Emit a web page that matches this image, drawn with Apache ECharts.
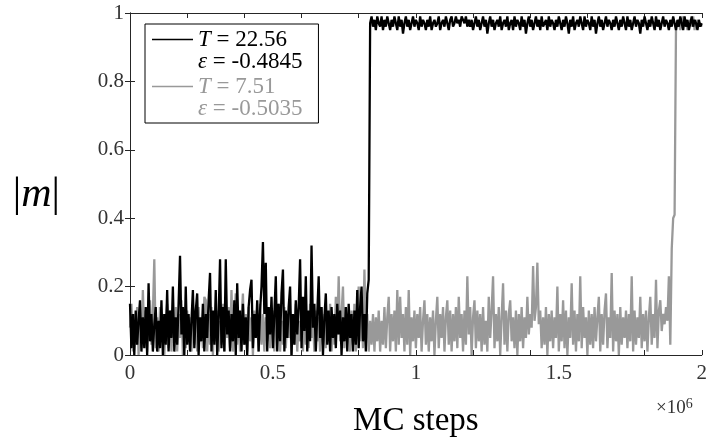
<!DOCTYPE html>
<html>
<head>
<meta charset="utf-8">
<script src="https://cdn.jsdelivr.net/npm/echarts@6/dist/echarts.min.js"></script>
<style>html,body{margin:0;padding:0;background:#fff}#chart{width:710px;height:443px}</style>
</head>
<body>
<div id="chart"></div>
<script>
// Sampling interval of the stored traces (MC steps between samples)
const STEP = 5000;

// |m| trace, T = 22.56 : disordered part (0 ... 835000)
const blackBefore = [
.15,.02,.12,.0,.13,.03,.1,.16,.01,.11,
.02,.14,.0,.21,.04,.12,.01,.09,.14,.01,
.1,.02,.16,.0,.12,.03,.19,.01,.13,.05,
.2,.01,.11,.03,.15,.29,.06,.14,.0,.2,
.03,.12,.01,.1,.19,.02,.13,.18,.0,.11,
.04,.15,.01,.12,.05,.16,.24,.01,.13,.03,
.19,.0,.11,.28,.02,.14,.01,.28,.06,.13,
.01,.12,.04,.16,.0,.21,.05,.13,.01,.15,
.03,.11,.0,.14,.19,.22,.02,.12,.05,.16,
.01,.13,.2,.33,.12,.27,.01,.14,.06,.17,
.02,.12,.23,.01,.15,.04,.18,.25,.01,.13,
.05,.14,.2,.0,.12,.03,.16,.06,.14,.28,
.02,.17,.07,.23,.01,.13,.04,.32,.08,.15,
.01,.12,.23,.05,.14,.0,.11,.18,.03,.13,
.01,.14,.05,.12,.02,.15,.06,.13,.0,.11,
.04,.14,.01,.15,.05,.12,.01,.13,.03,.19,
.02,.14,.2,.04,.12,.01,.18,.22
];
// |m| trace, T = 22.56 : ordered part (840000 ... 2000000)
const blackAfter = [
.97,.99,.96,.98,.95,.99,.97,.96,.99,.95,
.98,.96,.99,.97,.95,.98,.96,.99,.97,.95,
.99,.96,.98,.94,.97,.99,.96,.98,.95,.97,
.99,.96,.98,.97,.95,.99,.96,.98,.97,.95,
.98,.96,.99,.95,.97,.98,.96,.97,.99,.95,
.97,.98,.96,.99,.97,.95,.98,.99,.96,.97,
.99,.97,.98,.96,.99,.98,.97,.99,.96,.98,
.96,.98,.95,.97,.99,.96,.98,.95,.97,.99,
.96,.98,.94,.97,.99,.96,.98,.95,.97,.98,
.96,.99,.95,.97,.98,.96,.99,.95,.97,.98,
.95,.99,.96,.98,.97,.95,.99,.96,.98,.94,
.97,.99,.96,.98,.95,.97,.99,.96,.98,.95,
.99,.96,.97,.98,.95,.99,.96,.98,.97,.95,
.98,.96,.99,.97,.95,.98,.96,.99,.97,.94,
.98,.96,.99,.95,.97,.98,.96,.99,.97,.95,
.99,.96,.98,.97,.95,.99,.96,.98,.94,.97,
.99,.96,.98,.95,.97,.99,.96,.98,.97,.95,
.98,.96,.99,.97,.95,.98,.96,.99,.97,.95,
.99,.96,.98,.95,.97,.99,.96,.98,.97,.94,
.98,.96,.99,.97,.95,.98,.96,.99,.97,.95,
.99,.96,.98,.95,.97,.99,.96,.98,.97,.95,
.98,.96,.99,.97,.95,.98,.96,.99,.97,.95,
.99,.96,.98,.95,.97,.99,.96,.98,.97,.95,
.98,.96,.97
];
// |m| trace, T = 7.51 : disordered part (0 ... 1880000)
const grayBefore = [
.08,.15,.01,.12,.03,.14,.0,.11,.02,.19,
.04,.13,.01,.1,.16,.03,.12,.28,.02,.11,
.01,.14,.04,.12,.0,.1,.15,.02,.13,.01,
.11,.03,.14,.01,.12,.05,.16,.0,.1,.02,
.13,.04,.11,.01,.15,.03,.12,.01,.14,.05,
.1,.02,.17,.16,.01,.12,.03,.14,.0,.11,
.04,.13,.01,.1,.03,.15,.01,.12,.05,.14,
.02,.19,.01,.11,.18,.03,.13,.01,.1,.18,
.03,.12,.01,.14,.04,.11,.0,.13,.05,.1,
.01,.15,.03,.12,.01,.11,.04,.14,.02,.1,
.13,.01,.12,.04,.15,.01,.1,.03,.14,.02,
.11,.05,.13,.0,.12,.03,.15,.01,.1,.04,
.14,.01,.12,.03,.11,.02,.15,.05,.1,.01,
.13,.04,.11,.01,.14,.03,.12,.02,.1,.05,
.15,.01,.12,.03,.17,.06,.23,.04,.12,.2,
.02,.14,.05,.11,.01,.13,.03,.15,.01,.12,
.2,.04,.13,.02,.25,.06,.12,.01,.1,.03,
.12,.01,.11,.04,.13,.01,.1,.03,.14,.02,
.11,.17,.01,.12,.04,.13,.01,.19,.03,.17,
.05,.12,.01,.14,.03,.19,.0,.11,.04,.13,
.02,.12,.05,.14,.01,.1,.16,.03,.12,.01,
.11,.04,.13,.0,.1,.17,.02,.12,.05,.14,
.01,.11,.16,.03,.13,.01,.12,.04,.14,.02,
.17,.05,.12,.01,.13,.03,.23,.06,.14,.0,
.11,.16,.02,.13,.04,.12,.01,.14,.03,.1,
.01,.17,.05,.13,.23,.02,.12,.04,.14,.0,
.11,.21,.03,.13,.01,.12,.16,.04,.11,.02,
.13,.0,.12,.04,.14,.02,.11,.05,.17,.06,
.12,.08,.26,.1,.14,.27,.09,.13,.02,.11,
.03,.14,.0,.12,.04,.13,.02,.11,.05,.2,
.01,.12,.04,.16,.02,.13,.0,.11,.05,.21,
.03,.13,.01,.12,.04,.23,.02,.14,.05,.11,
.0,.13,.03,.12,.02,.14,.04,.11,.17,.01,
.12,.03,.13,.18,.02,.11,.05,.24,.01,.13,
.04,.12,.0,.14,.03,.11,.05,.13,.02,.12,
.04,.23,.01,.13,.03,.11,.05,.17,.02,.12,
.04,.13,.01,.11,.17,.03,.12,.05,.22,.02,
.13,.16,.07,.12,.09,.14,.1
];
// |m| trace, T = 7.51 : transition and ordered part (1885000 ... 2000000)
const grayAfter = [
.23,.03,.31,.4,.41,.97,.96,.98,.95,.97,.99,.96,.98,.95,.97,.98,.96,.99,.95,.97,.98,.96,.97,.96
];

const seriesNames = ['T = 22.56, ε = -0.4845', 'T = 7.51, ε = -0.5035'];
const legendLabels = {
  'T = 22.56, ε = -0.4845': '{i|T} = 22.56\n{i|ε} = -0.4845',
  'T = 7.51, ε = -0.5035': '{i|T} = 7.51\n{i|ε} = -0.5035'
};
const xTickLabels = ['0', '0.5', '1', '1.5', '2'];
const xLabelStep = 500000;

const toPairs = arr => arr.map((v, i) => [i * STEP, v]);
const blackData = toPairs(blackBefore.concat(blackAfter));
const grayData = toPairs(grayBefore.concat(grayAfter));

const SERIF = "'Liberation Serif', 'Times New Roman', serif";
const AXC = '#262626';

const chart = echarts.init(document.getElementById('chart'), null, {renderer: 'canvas'});
chart.setOption({
  animation: false,
  backgroundColor: '#fff',
  grid: {left: 130, right: 6, top: 13, bottom: 86, containLabel: false},
  xAxis: [
    {
      type: 'value', min: 0, max: 2000000, interval: xLabelStep, position: 'bottom',
      axisLine: {show: true, lineStyle: {color: AXC, width: 1}},
      axisTick: {show: false},
      splitLine: {show: false},
      axisLabel: {
        formatter: v => xTickLabels[Math.round(v / xLabelStep)],
        fontFamily: SERIF, fontSize: 21, color: '#333', margin: 8
      },
      name: 'MC steps', nameLocation: 'middle', nameGap: 50,
      nameTextStyle: {fontFamily: SERIF, fontSize: 33, color: '#000'}
    },
    {
      type: 'value', min: 0, max: 2000000, interval: 200000, position: 'bottom',
      axisLine: {show: false},
      axisTick: {show: true, inside: true, length: 5, lineStyle: {color: AXC}},
      axisLabel: {show: false}, splitLine: {show: false}
    },
    {
      type: 'value', min: 0, max: 2000000, interval: 200000, position: 'top',
      axisLine: {show: true, lineStyle: {color: AXC, width: 1}},
      axisTick: {show: true, inside: true, length: 5, lineStyle: {color: AXC}},
      axisLabel: {show: false}, splitLine: {show: false}
    }
  ],
  yAxis: [
    {
      type: 'value', min: 0, max: 1, interval: 0.2, position: 'left',
      axisLine: {show: true, lineStyle: {color: AXC, width: 1}},
      axisTick: {show: true, inside: true, length: 5, lineStyle: {color: AXC}},
      splitLine: {show: false},
      axisLabel: {fontFamily: SERIF, fontSize: 21, color: '#333', margin: 6},
      name: '{b||}{m|m}{b||}', nameLocation: 'middle', nameRotate: 0, nameGap: 70,
      nameTextStyle: {
        padding: [22, 0, 0, 0],
        rich: {
          b: {fontFamily: SERIF, fontSize: 42, color: '#000'},
          m: {fontFamily: SERIF, fontSize: 42, fontStyle: 'italic', color: '#000'}
        }
      }
    },
    {
      type: 'value', min: 0, max: 1, interval: 0.2, position: 'right',
      axisLine: {show: true, lineStyle: {color: AXC, width: 1}},
      axisTick: {show: true, inside: true, length: 5, lineStyle: {color: AXC}},
      axisLabel: {show: false}, splitLine: {show: false}
    }
  ],
  legend: {
    orient: 'vertical', left: 145, top: 24,
    itemWidth: 41, itemHeight: 44, itemGap: 2,
    padding: [4, 16, 3, 7],
    borderColor: '#000', borderWidth: 1, backgroundColor: '#fff',
    icon: 'path://M0,0M41,44M0,10.3H41V11.7H0Z',
    selectedMode: false,
    data: [
      {name: seriesNames[0], itemStyle: {color: '#000', borderWidth: 0}, textStyle: {color: '#000'}},
      {name: seriesNames[1], itemStyle: {color: '#999', borderWidth: 0}, textStyle: {color: '#999'}}
    ],
    formatter: name => legendLabels[name],
    textStyle: {
      fontFamily: SERIF, fontSize: 23, lineHeight: 22,
      rich: {i: {fontFamily: SERIF, fontSize: 23, lineHeight: 22, fontStyle: 'italic'}}
    }
  },
  graphic: [
    {
      type: 'text', left: 656, top: 397,
      style: {
        text: '×10{s|6}',
        fontFamily: SERIF, fontSize: 19, fill: '#333', lineHeight: 22, verticalAlign: 'top',
        rich: {s: {fontFamily: SERIF, fontSize: 14, fill: '#333', verticalAlign: 'top', lineHeight: 22}}
      }
    }
  ],
  series: [
    {
      name: seriesNames[1], type: 'line', data: grayData, showSymbol: false,
      xAxisIndex: 0, yAxisIndex: 0,
      lineStyle: {color: '#999', width: 2.3}, itemStyle: {color: '#999'}, z: 2
    },
    {
      name: seriesNames[0], type: 'line', data: blackData, showSymbol: false,
      xAxisIndex: 0, yAxisIndex: 0,
      lineStyle: {color: '#000', width: 2.3}, itemStyle: {color: '#000'}, z: 3
    }
  ]
});
</script>
</body>
</html>
